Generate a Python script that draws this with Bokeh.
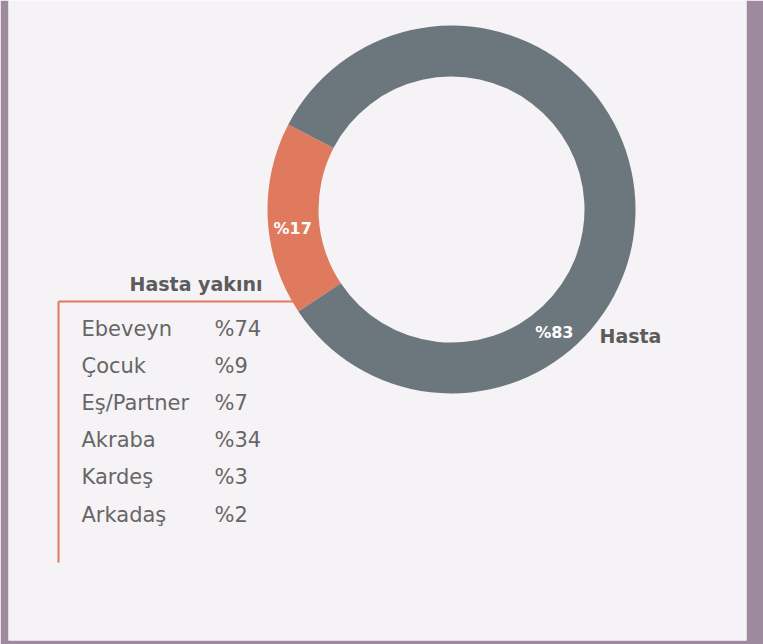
import math
from bokeh.plotting import figure
from bokeh.models import Range1d, ColumnDataSource
from bokeh.core.properties import value
from bokeh.embed import file_html
from bokeh.resources import INLINE

# ---- data ----
segments = ["Hasta yakını", "Hasta"]
shares = [17, 83]
seg_labels = ["%17", "%83"]
colors = ["#e07a5f", "#6b777d"]

relatives = ["Ebeveyn", "Çocuk", "Eş/Partner", "Akraba", "Kardeş", "Arkadaş"]
relative_pct = ["%74", "%9", "%7", "%34", "%3", "%2"]

# ---- layout constants ----
W, H = 738, 640
FONT = "DejaVu Sans"
BG = "#f5f3f6"
BORDER = "#9e8a9f"
TXT = "#5c5c5c"
cx, cy = 443, 431
r_out, r_in = 184, 133
start_deg = 152.5

p = figure(width=763, height=644, output_backend="svg", toolbar_location=None,
           x_range=Range1d(0, W), y_range=Range1d(0, H),
           min_border_left=8, min_border_top=0, min_border_right=17, min_border_bottom=4)
p.axis.visible = False
p.grid.visible = False
p.outline_line_color = None
p.background_fill_color = BG
p.border_fill_color = BORDER

total = sum(shares)
starts, ends = [], []
a = math.radians(start_deg)
for s in shares:
    starts.append(a)
    a += 2 * math.pi * s / total
    ends.append(a)
src = ColumnDataSource(dict(start=starts, end=ends, color=colors))
p.annular_wedge(x=cx, y=cy, inner_radius=r_in, outer_radius=r_out,
                start_angle="start", end_angle="end", color="color",
                line_color=None, source=src)

# segment labels (angle, radius placement)
lab_ang = [math.radians(187), math.radians(-50)]
lab_r = 160
lx = [cx + lab_r * math.cos(t) for t in lab_ang]
ly = [cy + lab_r * math.sin(t) for t in lab_ang]
p.text(x=lx, y=ly, text=seg_labels, text_color="white", text_font=value(FONT),
       text_font_style="bold", text_font_size="16px", text_align="center",
       text_baseline="middle")

# category titles
p.text(x=[254], y=[357], text=[segments[0]], text_color=TXT, text_font=value(FONT),
       text_font_style="bold", text_font_size="19px", text_align="right",
       text_baseline="middle")
p.text(x=[591], y=[305], text=[segments[1]], text_color=TXT, text_font=value(FONT),
       text_font_style="bold", text_font_size="19px", text_align="left",
       text_baseline="middle")

# bracket lines
p.line(x=[50, 289], y=[339, 339], line_color=colors[0], line_width=2)
p.line(x=[50, 50], y=[339, 78], line_color=colors[0], line_width=2)

# relatives list
ys = [312 - i * 37.2 for i in range(len(relatives))]
p.text(x=[73] * len(relatives), y=ys, text=relatives, text_color="#666666",
       text_font=value(FONT), text_font_size="21px", text_align="left",
       text_baseline="middle")
p.text(x=[206] * len(relatives), y=ys, text=relative_pct, text_color="#666666",
       text_font=value(FONT), text_font_size="21px", text_align="left",
       text_baseline="middle")

open("out.html", "w").write(file_html(p, INLINE))
